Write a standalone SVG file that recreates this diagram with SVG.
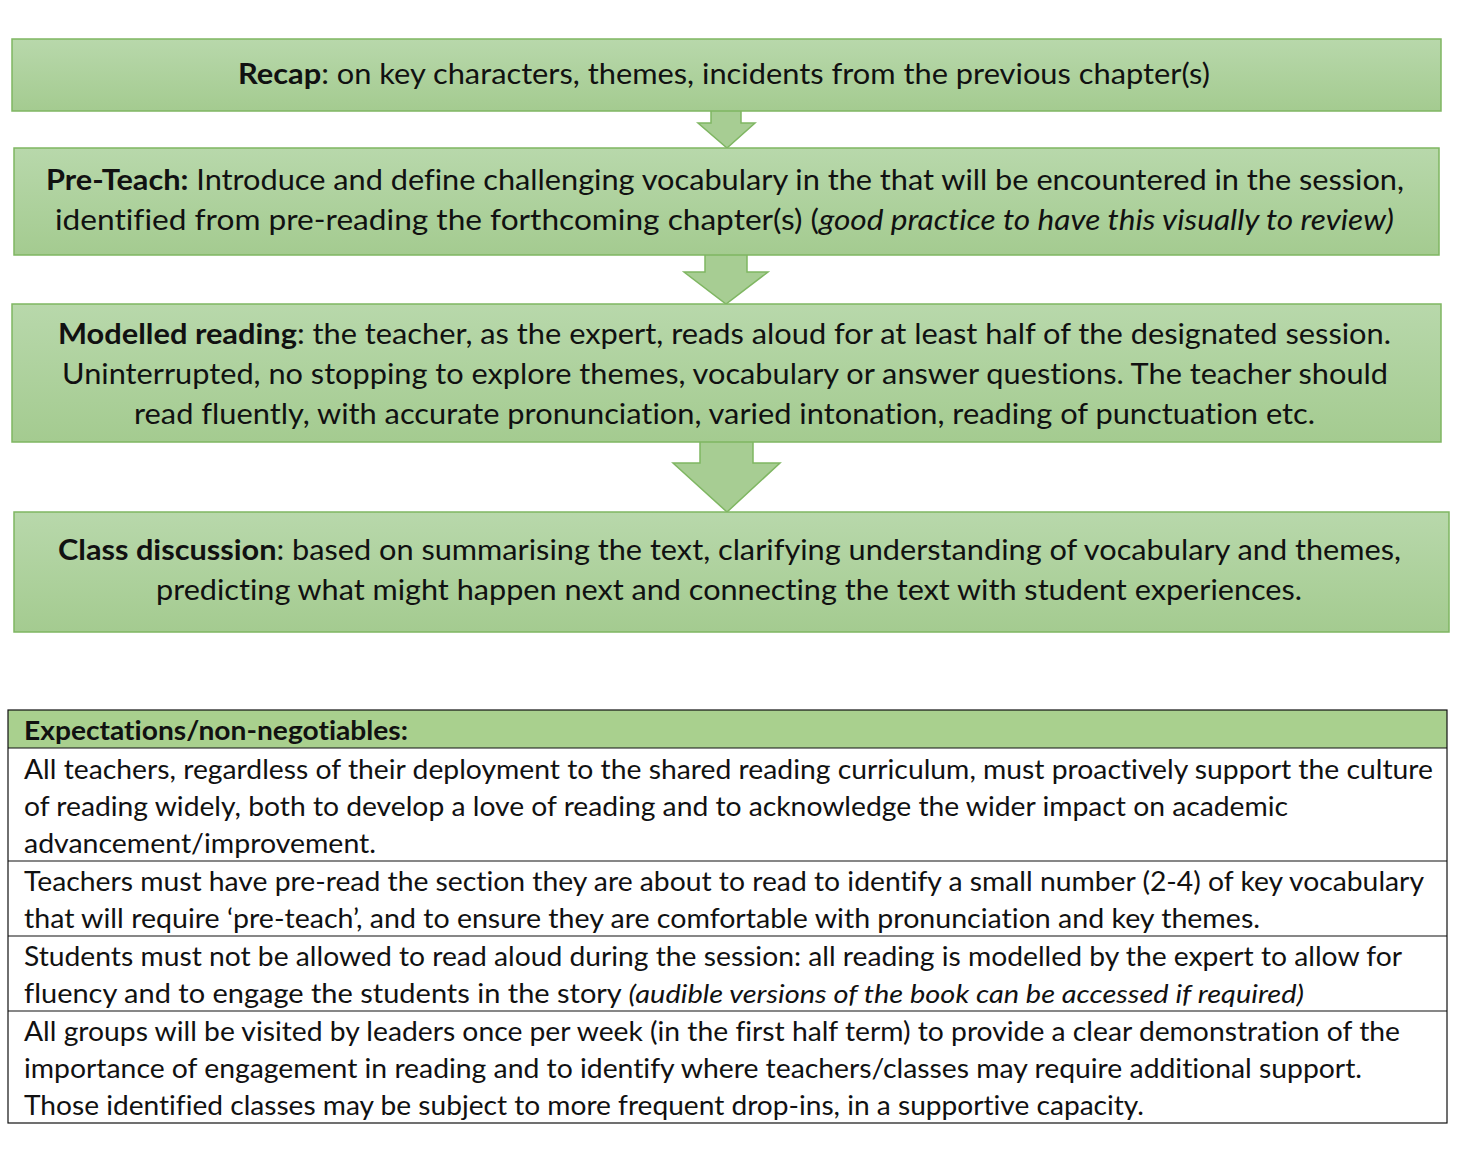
<svg xmlns="http://www.w3.org/2000/svg" width="1458" height="1158" viewBox="0 0 1458 1158">
<defs>
<linearGradient id="g" x1="0" y1="0" x2="0" y2="1">
<stop offset="0" stop-color="#b8d8ab"/>
<stop offset="1" stop-color="#a4cb90"/>
</linearGradient>
<style>
.box{fill:url(#g);stroke:#7fb662;stroke-width:1.5}
.arr{fill:#a7cd93;stroke:#7fb662;stroke-width:1.5;stroke-linejoin:miter}
.t{font-family:Lato,"Open Sans","Liberation Sans",sans-serif;font-size:28px;fill:#111;text-anchor:start;font-variant-ligatures:none}
.s{font-family:Lato,"Open Sans","Liberation Sans",sans-serif;font-size:26px;fill:#111;font-variant-ligatures:none}
.b{font-weight:bold}
.i{font-style:italic}
.grid{fill:none;stroke:#111;stroke-width:1.2}
</style>
</defs>
<rect width="1458" height="1158" fill="#ffffff"/>

<g id="connectors">
<path class="arr" d="M711,111 V123 H698 L727,148 L755,123 H741 V111"/>
<path class="arr" d="M705,255 V272 H684 L726,304 L768,272 H747 V255"/>
<path class="arr" d="M700,442 V463 H673 L727,512 L780,463 H753 V442"/>
</g>

<g id="recap">
<rect class="box" x="12" y="39" width="1429" height="72"/>
<text class="t" x="238" y="84" textLength="972" lengthAdjust="spacingAndGlyphs"><tspan class="b">Recap</tspan>: on key characters, themes, incidents from the previous chapter(s)</text>
</g>

<g id="preteach">
<rect class="box" x="14" y="148" width="1425" height="107"/>
<text class="t" x="46" y="190" textLength="1358" lengthAdjust="spacingAndGlyphs"><tspan class="b">Pre-Teach:</tspan> Introduce and define challenging vocabulary in the that will be encountered in the session,</text>
<text class="t" x="55" y="230" textLength="1339" lengthAdjust="spacingAndGlyphs">identified from pre-reading the forthcoming chapter(s) (<tspan class="i">good practice to have this visually to review)</tspan></text>
</g>

<g id="modelled">
<rect class="box" x="12" y="304" width="1429" height="138"/>
<text class="t" x="58" y="344" textLength="1333" lengthAdjust="spacingAndGlyphs"><tspan class="b">Modelled reading</tspan>: the teacher, as the expert, reads aloud for at least half of the designated session.</text>
<text class="t" x="62" y="384" textLength="1326" lengthAdjust="spacingAndGlyphs">Uninterrupted, no stopping to explore themes, vocabulary or answer questions. The teacher should</text>
<text class="t" x="134" y="424" textLength="1181" lengthAdjust="spacingAndGlyphs">read fluently, with accurate pronunciation, varied intonation, reading of punctuation etc.</text>
</g>

<g id="discussion">
<rect class="box" x="14" y="512" width="1435" height="120"/>
<text class="t" x="58" y="560" textLength="1343" lengthAdjust="spacingAndGlyphs"><tspan class="b">Class discussion</tspan>: based on summarising the text, clarifying understanding of vocabulary and themes,</text>
<text class="t" x="156" y="600" textLength="1146" lengthAdjust="spacingAndGlyphs">predicting what might happen next and connecting the text with student experiences.</text>
</g>

<g id="expectations">
<rect x="8" y="710" width="1439" height="38" fill="#a9d08e"/>
<rect class="grid" x="8" y="710" width="1439" height="413"/>
<line class="grid" x1="8" y1="748" x2="1447" y2="748"/>
<line class="grid" x1="8" y1="861" x2="1447" y2="861"/>
<line class="grid" x1="8" y1="936" x2="1447" y2="936"/>
<line class="grid" x1="8" y1="1011" x2="1447" y2="1011"/>
<text class="s b" x="24" y="740" textLength="384" lengthAdjust="spacingAndGlyphs">Expectations/non-negotiables:</text>
<text class="s" x="24" y="779" textLength="1409" lengthAdjust="spacingAndGlyphs">All teachers, regardless of their deployment to the shared reading curriculum, must proactively support the culture</text>
<text class="s" x="24" y="816" textLength="1264" lengthAdjust="spacingAndGlyphs">of reading widely, both to develop a love of reading and to acknowledge the wider impact on academic</text>
<text class="s" x="24" y="853" textLength="352" lengthAdjust="spacingAndGlyphs">advancement/improvement.</text>
<text class="s" x="24" y="891" textLength="1400" lengthAdjust="spacingAndGlyphs">Teachers must have pre-read the section they are about to read to identify a small number (2-4) of key vocabulary</text>
<text class="s" x="24" y="928" textLength="1236" lengthAdjust="spacingAndGlyphs">that will require ‘pre-teach’, and to ensure they are comfortable with pronunciation and key themes.</text>
<text class="s" x="24" y="966" textLength="1378" lengthAdjust="spacingAndGlyphs">Students must not be allowed to read aloud during the session: all reading is modelled by the expert to allow for</text>
<text class="s" x="24" y="1003" textLength="1280" lengthAdjust="spacingAndGlyphs">fluency and to engage the students in the story <tspan class="i">(audible versions of the book can be accessed if required)</tspan></text>
<text class="s" x="24" y="1041" textLength="1376" lengthAdjust="spacingAndGlyphs">All groups will be visited by leaders once per week (in the first half term) to provide a clear demonstration of the</text>
<text class="s" x="24" y="1078" textLength="1338" lengthAdjust="spacingAndGlyphs">importance of engagement in reading and to identify where teachers/classes may require additional support.</text>
<text class="s" x="24" y="1115" textLength="1120" lengthAdjust="spacingAndGlyphs">Those identified classes may be subject to more frequent drop-ins, in a supportive capacity.</text>
</g>
</svg>
